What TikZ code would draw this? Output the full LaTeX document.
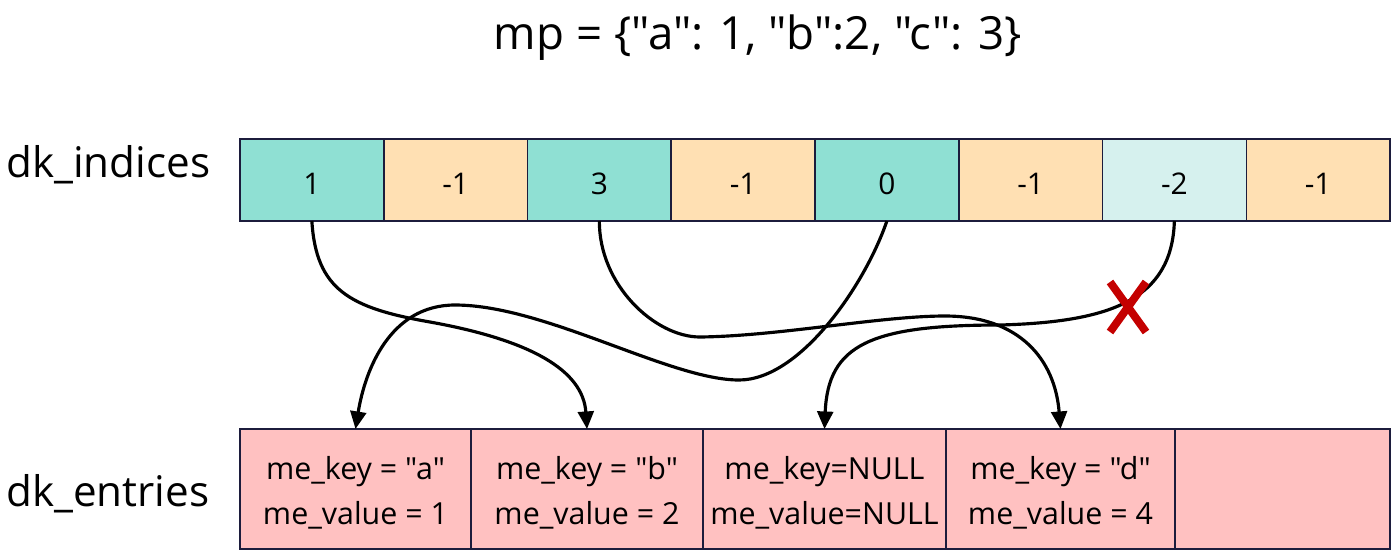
\documentclass[tikz,border=0pt]{standalone}
\usepackage{fontspec}
\setmainfont{Open Sans}[Ligatures=TeXOff]
\usetikzlibrary{arrows.meta}
\definecolor{tealc}{HTML}{8FE0D3}
\definecolor{peach}{HTML}{FFE0B3}
\definecolor{lcyan}{HTML}{D6F1EE}
\definecolor{pinkc}{HTML}{FFC1C1}
\definecolor{bord}{HTML}{1C1C3C}
\definecolor{xred}{HTML}{C40000}
\tikzset{
  cell/.style={draw=bord, line width=0.85pt, inner sep=0pt, outer sep=0pt,
    minimum width=2.875cm, minimum height=1.64cm},
  cellnum/.style={inner sep=0pt, font=\fontsize{17}{20}\selectfont},
  entry/.style={draw=bord, line width=0.85pt, inner sep=0pt, outer sep=0pt, fill=pinkc,
    minimum height=2.4cm},
  entrytext/.style={inner sep=0pt, align=center, font=\fontsize{17.3}{25.5}\selectfont},
  lbl/.style={anchor=west, inner sep=0pt, font=\fontsize{24}{28}\selectfont},
  link/.style={line width=1.8pt, -{Triangle[length=10pt,width=9pt]}},
  cross/.style={xred, line width=4.5pt}
}
\begin{document}
\begin{tikzpicture}[x=0.02cm,y=-0.02cm]
\useasboundingbox (0,0) rectangle (1400,559);
\node[font=\fontsize{26}{30}\selectfont] (title) at (758,38) {mp = \{"a": 1, "b":2, "c": 3\}};
\node[lbl] (lind) at (6,165) {dk\_indices};
\node[lbl] (lent) at (6,494) {dk\_entries};
% indices
\node[cell, fill=tealc] (i0) at (311.875,180) {};
\node[cell, fill=peach] (i1) at (455.625,180) {};
\node[cell, fill=tealc] (i2) at (599.375,180) {};
\node[cell, fill=peach] (i3) at (743.125,180) {};
\node[cell, fill=tealc] (i4) at (886.875,180) {};
\node[cell, fill=peach] (i5) at (1030.625,180) {};
\node[cell, fill=lcyan] (i6) at (1174.375,180) {};
\node[cell, fill=peach] (i7) at (1318.125,180) {};
\node[cellnum] (n0) at (311.875,184) {1};
\node[cellnum] (n1) at (455.625,184) {-1};
\node[cellnum] (n2) at (599.375,184) {3};
\node[cellnum] (n3) at (743.125,184) {-1};
\node[cellnum] (n4) at (886.875,184) {0};
\node[cellnum] (n5) at (1030.625,184) {-1};
\node[cellnum] (n6) at (1174.375,184) {-2};
\node[cellnum] (n7) at (1318.125,184) {-1};
% entries
\node[entry, minimum width=4.62cm] (e0) at (355.5,489) {};
\node[entry, minimum width=4.64cm] (e1) at (587,489) {};
\node[entry, minimum width=4.86cm] (e2) at (824.5,489) {};
\node[entry, minimum width=4.58cm] (e3) at (1060.5,489) {};
\node[entry, minimum width=4.30cm] (e4) at (1282.5,489) {};
\node[entrytext] (t0) at (355.5,493) {me\_key = "a"\\me\_value = 1};
\node[entrytext] (t1) at (587,493) {me\_key = "b"\\me\_value = 2};
\node[entrytext] (t2) at (824.5,493) {me\_key=NULL\\me\_value=NULL};
\node[entrytext] (t3) at (1060.5,493) {me\_key = "d"\\me\_value = 4};
% connectors
\draw[link] (i0.south) .. controls (316,290) and (350,308) .. (430,322)
  .. controls (530,340) and (583,370) .. (e1.north);
\draw[link] (i4.south) .. controls (865,285) and (800,380) .. (739,380)
  .. controls (670,380) and (545,305) .. (455,305)
  .. controls (390,305) and (365,370) .. (e0.north);
\draw[link] (i2.south) .. controls (599,285) and (655,337) .. (700,337)
  .. controls (780,336) and (880,316) .. (945,316)
  .. controls (1020,316) and (1055,360) .. (e3.north);
\draw[link] (i6.south) .. controls (1172,300) and (1110,322) .. (1000,325)
  .. controls (870,325) and (828,345) .. (e2.north);
% red cross
\coordinate (xa) at (1110,282);
\coordinate (xb) at (1146,332);
\coordinate (xc) at (1146,282);
\coordinate (xd) at (1110,332);
\draw[cross] (xa) -- (xb);
\draw[cross] (xc) -- (xd);
\end{tikzpicture}
\end{document}
